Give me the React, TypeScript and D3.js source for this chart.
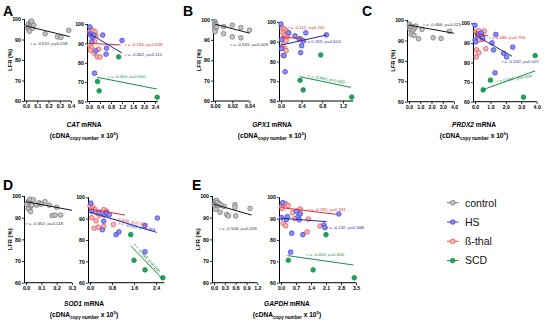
import React, { useEffect, useRef } from 'react';
import * as d3 from 'd3';

type Pt = [number, number];
type Fit = [number, number, number, number];
type Stat = [number, number, number]; // x, y (data units), rotation

const groups = ['control', 'HS', 'ß-thal', 'SCD'];
const yTicks = [60, 70, 80, 90, 100];

// A — CAT
const catControl: Pt[] = [[0.01, 96.5], [0.02, 95], [0.02, 97.5], [0.03, 96], [0.04, 98.5], [0.04, 97], [0.05, 98], [0.05, 96], [0.06, 95.5], [0.03, 94], [0.07, 97], [0.05, 99], [0.17, 92.8], [0.28, 91.3], [0.31, 91], [0.38, 94.5]];
const catHS: Pt[] = [[0.03, 98.5], [0.04, 94.8], [0.13, 93.4], [0.18, 94.3], [0.1, 90.9], [0.25, 86.1], [0.5, 94.3], [0.64, 87.5], [0.62, 84.4], [1.2, 91.5], [0.2, 74.6]];
const catThal: Pt[] = [[0.03, 96], [0.08, 97], [0.15, 96.5], [0.22, 96], [0.05, 94.5], [0.12, 93.5], [0.25, 94], [0.03, 89], [0.1, 88], [0.05, 86.5], [0.2, 91], [0.35, 87], [0.3, 83], [0.4, 83], [0.18, 85]];
const catSCD: Pt[] = [[1.08, 83], [0.31, 70.3], [0.37, 65.5], [2.48, 62.2]];
const catFits: Fit[] = [[0, 96.6, 0.39, 91.4], [0, 95.2, 1.2, 85], [0, 90, 1.15, 89.2], [0.3, 72.5, 2.48, 66.4]];
const catR = ['-0.511', '-0.462', '-0.180', '-0.400'];
const catP = ['0.018', '0.112', '0.538', '0.600'];
const catLeftTicks = [0, 0.1, 0.2, 0.3, 0.4];
const catRightTicks = [0, 0.4, 0.8, 1.2, 1.6, 2.0, 2.4];

// B — GPX1
const gpxControl: Pt[] = [[0, 99], [0, 98], [0, 97], [0, 96], [0, 95], [0, 94], [0.001, 97.5], [0.002, 96.5], [0.01, 96.5], [0.01, 93], [0.02, 97.2], [0.02, 91.5], [0.03, 96], [0.03, 91], [0.04, 94.8]];
const gpxHS: Pt[] = [[0, 99], [0.01, 91], [0.01, 86.5], [0.06, 83], [0.08, 74.8], [0.14, 94.5], [0.27, 93], [0.35, 91.5], [0.48, 94.5], [0.4, 88], [0.38, 84.5], [0.43, 90.5], [0.88, 93.5]];
const gpxThal: Pt[] = [[0.02, 97], [0.06, 96.5], [0.1, 95.5], [0.04, 94.5], [0.08, 93.5], [0.12, 92.5], [0.05, 91], [0.1, 90.5], [0.03, 88], [0.07, 86.5], [0.1, 85.5], [0.04, 83], [0.38, 91.5], [0.15, 94.5]];
const gpxSCD: Pt[] = [[0.77, 83.3], [0.37, 70.5], [0.43, 65.6], [1.37, 62]];
const gpxFits: Fit[] = [[0, 97.7, 0.04, 93.3], [0, 88.3, 0.88, 93.4], [0, 92.6, 0.4, 91.4], [0.37, 72.3, 1.35, 66.9]];
const gpxR = ['-0.555', '0.155', '-0.112', '-0.400'];
const gpxP = ['0.009', '0.614', '0.702', '0.600'];
const gpxLeftTicks = [0, 0.02, 0.04];
const gpxRightTicks = [0, 0.4, 0.8, 1.2];

// C — PRDX2
const prdxControl: Pt[] = [[0.02, 98], [0.05, 96.5], [0.1, 95.5], [0.15, 97], [0.3, 96.5], [0.35, 95], [0.2, 93], [0.5, 96], [0.6, 97], [0.45, 92.5], [0.85, 90.8], [1.15, 95.4], [2.15, 91.3], [2.85, 91], [3.6, 94.5]];
const prdxHS: Pt[] = [[0, 99], [0, 91.5], [0.05, 90.5], [0.2, 94.5], [0.4, 95], [0.45, 93.5], [0.5, 92.5], [1.1, 90], [1.2, 86.4], [1.35, 94.3], [1.85, 84.7], [2.05, 82.8], [2.45, 87.8], [1.3, 74.7]];
const prdxThal: Pt[] = [[0.05, 95.7], [0.15, 95], [0.25, 96.2], [0.35, 94], [0.45, 93], [0.6, 96], [0.3, 91.5], [0.5, 91.8], [0.1, 86.5], [0.25, 85], [0.08, 82.8], [0.7, 87], [0.2, 93.5]];
const prdxSCD: Pt[] = [[3.9, 83.5], [1.0, 71], [0.53, 66], [3.14, 62.3]];
const prdxFits: Fit[] = [[0, 97.5, 4, 93.5], [0, 94, 2.4, 83.2], [0, 94.9, 0.86, 93.5], [0.5, 66.1, 3.9, 75.7]];
const prdxR = ['-0.466', '-0.532', '0.080', '0.400'];
const prdxP = ['0.023', '0.021', '0.794', '0.600'];
const prdxTicks = [0, 1, 2, 3, 4];

// D — SOD1
const sodControl: Pt[] = [[0.004, 96.2], [0.015, 97.5], [0.026, 98.5], [0.048, 98.2], [0.03, 95.1], [0.037, 95.8], [0.015, 94], [0.03, 92.8], [0.07, 95.8], [0.087, 96.9], [0.1, 96.2], [0.124, 97.4], [0.152, 95.8], [0.17, 91], [0.19, 91.2], [0.2, 94.8], [0.226, 91.2]];
const sodHS: Pt[] = [[0.03, 97.3], [0.06, 93.5], [0.33, 93], [0.52, 91.8], [0.6, 92.8], [0.7, 91.8], [0.5, 88.8], [0.45, 84.8], [0.95, 82.5], [1.05, 83.8], [2.0, 86.8], [2.45, 90.3], [2.0, 74.5]];
const sodThal: Pt[] = [[0.0, 96], [0.1, 95.5], [0.18, 94.3], [0.05, 94.5], [0.26, 92.5], [0.35, 91.5], [0.06, 90.5], [0.22, 89], [0.5, 94.2], [0.6, 93.5], [0.5, 86.3], [0.15, 85.5], [0.3, 86], [0.85, 87.2]];
const sodSCD: Pt[] = [[1.48, 82.5], [1.6, 70.5], [2.0, 66], [2.65, 62.3]];
const sodFits: Fit[] = [[0, 97.4, 0.3, 93.4], [0, 93, 2.42, 83.6], [0, 94.5, 1.27, 91.7], [1.48, 77.3, 2.67, 61.3]];
const sodR = ['-0.352', '-0.529', '-0.499', '-0.894'];
const sodP = ['0.118', '0.064', '0.069', '0.106'];
const sodLeftTicks = [0, 0.1, 0.2, 0.3];
const sodRightTicks = [0, 0.8, 1.6, 2.4];

// E — GAPDH
const gapdhControl: Pt[] = [[0.01, 96], [0.03, 97.5], [0.05, 96.3], [0.07, 98], [0.1, 97], [0.12, 95.5], [0.15, 96.5], [0.2, 95.8], [0.28, 95.2], [0.05, 93.8], [0.17, 92.5], [0.35, 91.5], [0.4, 90.8], [0.58, 96], [0.58, 94.8], [0.6, 90.8], [1.0, 94.3]];
const gapdhHS: Pt[] = [[0.08, 97.5], [0.03, 90.5], [0.25, 89.5], [0.3, 91], [0.5, 83.2], [0.72, 93.5], [0.8, 91], [0.9, 92.2], [0.85, 89.5], [1.02, 82.5], [2.0, 87], [2.05, 85.8], [2.7, 92.2], [0.45, 74.3]];
const gapdhThal: Pt[] = [[0.03, 95.8], [0.1, 96.8], [0.22, 97], [0.33, 96.2], [0.1, 87.8], [0.22, 86.7], [0.55, 92.8], [0.65, 90], [1.28, 89.8], [1.22, 83.8], [1.82, 86.5], [0.9, 94.5], [0.05, 94.8]];
const gapdhSCD: Pt[] = [[0.34, 70.5], [2.1, 82.5], [1.5, 66], [3.42, 62.3]];
const gapdhFits: Fit[] = [[0, 96.2, 1.04, 91.2], [0, 90.2, 2.13, 88.6], [0, 95.2, 2.6, 92], [0.3, 72.7, 3.38, 68.3]];
const gapdhR = ['-0.506', '-0.132', '-0.281', '-0.400'];
const gapdhP = ['0.019', '0.668', '0.331', '0.600'];
const gapdhLeftTicks = [0, 0.3, 0.6, 0.9, 1.2];
const gapdhRightTicks = [0, 0.7, 1.4, 2.1, 2.8, 3.5];

const style = [
  { fill: '#c4c4c4', stroke: '#6e6e6e', line: '#111111', text: '#333333' },
  { fill: '#8d8df2', stroke: '#3b3bcc', line: '#26269e', text: '#2a2aa8' },
  { fill: '#f6b8b8', stroke: '#e64848', line: '#e6262a', text: '#e02a2a' },
  { fill: '#22a35a', stroke: '#168a46', line: '#1b8c4e', text: '#1b8c4e' },
];

interface Sub {
  series: Pt[][]; // index matches style
  fits: Fit[];
  r: string[];
  p: string[];
  stats: Stat[];
  idx: number[];
  xDomain: [number, number];
  px: [number, number];
  py: [number, number];
  ticks: number[];
  fmt: string;
}

interface Panel {
  letter: string;
  gene: string;
  letterPos: [number, number];
  labelX: number;
  labelY: number;
  left: Sub;
  right: Sub;
}

const panels: Panel[] = [
  {
    letter: 'A', gene: 'CAT', letterPos: [3, 16], labelX: 84, labelY: 127,
    left: { series: [catControl], fits: [catFits[0]], r: [catR[0]], p: [catP[0]], stats: [[0.04, 87.3, 0]], idx: [0],
      xDomain: [0, 0.4], px: [26, 71], py: [101, 19], ticks: catLeftTicks, fmt: '.1f' },
    right: { series: [catThal, catHS, catSCD], fits: [catFits[2], catFits[1], catFits[3]], r: [catR[2], catR[1], catR[3]], p: [catP[2], catP[1], catP[3]],
      stats: [[1.31, 88.75, 0], [1.31, 83.7, 0], [0.69, 72.1, 0]], idx: [2, 1, 3],
      xDomain: [0, 2.5], px: [89, 157.75], py: [101.5, 24], ticks: catRightTicks, fmt: '.1f' },
  },
  {
    letter: 'B', gene: 'GPX1', letterPos: [183, 16], labelX: 272, labelY: 127,
    left: { series: [gpxControl], fits: [gpxFits[0]], r: [gpxR[0]], p: [gpxP[0]], stats: [[0.018, 87.2, 0]], idx: [0],
      xDomain: [0, 0.04], px: [215, 249.5], py: [101, 19.5], ticks: gpxLeftTicks, fmt: '.2f' },
    right: { series: [gpxThal, gpxHS, gpxSCD], fits: [gpxFits[2], gpxFits[1], gpxFits[3]], r: [gpxR[2], gpxR[1], gpxR[3]], p: [gpxP[2], gpxP[1], gpxP[3]],
      stats: [[0.13, 96.3, 0], [0.46, 89.2, 0], [0.52, 72, 10]], idx: [2, 1, 3],
      xDomain: [0, 1.4], px: [281, 353.3], py: [101, 22], ticks: gpxRightTicks, fmt: '.1f' },
  },
  {
    letter: 'C', gene: 'PRDX2', letterPos: [362, 16], labelX: 474, labelY: 127,
    left: { series: [prdxControl], fits: [prdxFits[0]], r: [prdxR[0]], p: [prdxP[0]], stats: [[1.27, 97.2, 0]], idx: [0],
      xDomain: [0, 4], px: [409, 454], py: [101.7, 20], ticks: prdxTicks, fmt: '.1f' },
    right: { series: [prdxThal, prdxHS, prdxSCD], fits: [prdxFits[2], prdxFits[1], prdxFits[3]], r: [prdxR[2], prdxR[1], prdxR[3]], p: [prdxP[2], prdxP[1], prdxP[3]],
      stats: [[0.93, 92.1, 0], [1.73, 79.6, 0], [1.43, 69.6, -9]], idx: [2, 1, 3],
      xDomain: [0, 4], px: [475, 536.7], py: [101.7, 23.3], ticks: prdxTicks, fmt: '.1f' },
  },
  {
    letter: 'D', gene: 'SOD1', letterPos: [3, 190], labelX: 84, labelY: 306,
    left: { series: [sodControl], fits: [sodFits[0]], r: [sodR[0]], p: [sodP[0]], stats: [[0, 86.7, 0]], idx: [0],
      xDomain: [0, 0.3], px: [26, 72], py: [282.7, 196], ticks: sodLeftTicks, fmt: '.1f' },
    right: { series: [sodThal, sodHS, sodSCD], fits: [sodFits[2], sodFits[1], sodFits[3]], r: [sodR[2], sodR[1], sodR[3]], p: [sodP[2], sodP[1], sodP[3]],
      stats: [[0.73, 89.5, 10], [1.03, 87, 10], [1.58, 77.5, 48]], idx: [2, 1, 3],
      xDomain: [0, 2.7], px: [90, 164.25], py: [282.7, 197.3], ticks: sodRightTicks, fmt: '.1f' },
  },
  {
    letter: 'E', gene: 'GAPDH', letterPos: [192, 190], labelX: 287, labelY: 306,
    left: { series: [gapdhControl], fits: [gapdhFits[0]], r: [gapdhR[0]], p: [gapdhP[0]], stats: [[0.15, 84.1, 0]], idx: [0],
      xDomain: [0, 1.2], px: [214, 257.3], py: [282.7, 196], ticks: gapdhLeftTicks, fmt: '.1f' },
    right: { series: [gapdhThal, gapdhHS, gapdhSCD], fits: [gapdhFits[2], gapdhFits[1], gapdhFits[3]], r: [gapdhR[2], gapdhR[1], gapdhR[3]], p: [gapdhP[2], gapdhP[1], gapdhP[3]],
      stats: [[1.28, 93.8, 0], [2.13, 85, 0], [1.2, 72.3, 0]], idx: [2, 1, 3],
      xDomain: [0, 3.5], px: [281, 356], py: [282.7, 197.3], ticks: gapdhRightTicks, fmt: '.1f' },
  },
];

const FONT = "'Liberation Sans', Arial, Helvetica, sans-serif";

function drawSub(root: d3.Selection<SVGGElement, unknown, null, undefined>, s: Sub, isLeft: boolean) {
  const x = d3.scaleLinear().domain(s.xDomain).range(s.px);
  const y = d3.scaleLinear().domain([60, 100]).range(s.py);
  const g = root.append('g');
  const ax = s.px[0] - 1.5;

  // axes lines
  g.append('line').attr('x1', ax).attr('x2', ax).attr('y1', y(60)).attr('y2', y(100))
    .attr('stroke', '#000').attr('stroke-width', 1);
  g.append('line').attr('x1', ax).attr('x2', x(s.xDomain[1])).attr('y1', y(60)).attr('y2', y(60))
    .attr('stroke', '#000').attr('stroke-width', 1);

  const yAxis = d3.axisLeft(y).tickValues(yTicks).tickSize(2.5).tickPadding(1.2).tickSizeOuter(0);
  const ya = g.append('g').attr('transform', `translate(${ax},0)`).call(yAxis);
  const xAxis = d3.axisBottom(x).tickValues(s.ticks).tickSize(2.5).tickPadding(1.2).tickSizeOuter(0)
    .tickFormat(d3.format(s.fmt) as any);
  const xa = g.append('g').attr('transform', `translate(0,${y(60)})`).call(xAxis);
  [ya, xa].forEach(a => {
    a.select('.domain').remove();
    a.selectAll('line').attr('stroke', '#000').attr('stroke-width', 0.8);
    a.selectAll('text').attr('font-family', FONT).attr('font-size', 5.2).attr('font-weight', 'bold').attr('fill', '#000');
  });

  if (isLeft) {
    g.append('text')
      .attr('transform', `translate(${ax - 13},${(y(60) + y(100)) / 2}) rotate(-90)`)
      .attr('text-anchor', 'middle').attr('font-family', FONT).attr('font-size', 5.8).attr('font-weight', 'bold')
      .text('LFR (%)');
  }

  // points
  s.series.forEach((data, i) => {
    const st = style[s.idx[i]];
    g.append('g').selectAll('circle').data(data).enter().append('circle')
      .attr('cx', d => x(d[0])).attr('cy', d => y(d[1])).attr('r', 2.35)
      .attr('fill', st.fill).attr('stroke', st.stroke).attr('stroke-width', 0.7);
  });

  // regression lines + stats
  s.fits.forEach((f, i) => {
    const st = style[s.idx[i]];
    g.append('line').attr('x1', x(f[0])).attr('y1', y(f[1])).attr('x2', x(f[2])).attr('y2', y(f[3]))
      .attr('stroke', st.line).attr('stroke-width', 1);
    const [sx, sy, rot] = s.stats[i];
    const t = g.append('text')
      .attr('transform', `translate(${x(sx)},${y(sy)}) rotate(${rot})`)
      .attr('font-family', FONT).attr('font-size', 4.4).attr('fill', st.text);
    t.append('tspan').attr('font-style', 'italic').text('r');
    t.append('tspan').text(` = ${s.r[i]}; `);
    t.append('tspan').attr('font-style', 'italic').text('p');
    t.append('tspan').text(`=${s.p[i]}`);
  });
}

const App: React.FC = () => {
  const svgRef = useRef<SVGSVGElement | null>(null);

  useEffect(() => {
    const svg = d3.select(svgRef.current);
    svg.selectAll('*').remove();
    const root = svg.append('g') as d3.Selection<SVGGElement, unknown, null, undefined>;

    panels.forEach(p => {
      root.append('text').attr('x', p.letterPos[0]).attr('y', p.letterPos[1])
        .attr('font-family', FONT).attr('font-size', 14).attr('font-weight', 'bold').text(p.letter);
      drawSub(root, p.left, true);
      drawSub(root, p.right, false);

      const l1 = root.append('text').attr('x', p.labelX).attr('y', p.labelY).attr('text-anchor', 'middle')
        .attr('font-family', FONT).attr('font-size', 6.6).attr('font-weight', 'bold');
      l1.append('tspan').attr('font-style', 'italic').text(p.gene);
      l1.append('tspan').text(' mRNA');
      const l2 = root.append('text').attr('x', p.labelX).attr('y', p.labelY + 11).attr('text-anchor', 'middle')
        .attr('font-family', FONT).attr('font-size', 6.6).attr('font-weight', 'bold');
      l2.append('tspan').text('(cDNA');
      l2.append('tspan').attr('font-size', 4.6).attr('dy', 1.8).text('copy number');
      l2.append('tspan').attr('dy', -1.8).text(' x 10');
      l2.append('tspan').attr('font-size', 4.4).attr('dy', -2.6).text('5');
      l2.append('tspan').attr('dy', 2.6).text(')');
    });

    // legend
    const lg = root.append('g');
    groups.forEach((name, i) => {
      const st = style[i];
      const cy = 202.7 + i * 19.3;
      lg.append('line').attr('x1', 447).attr('x2', 458.5).attr('y1', cy).attr('y2', cy)
        .attr('stroke', st.stroke).attr('stroke-width', 1);
      lg.append('circle').attr('cx', 452.7).attr('cy', cy).attr('r', 2.3)
        .attr('fill', st.fill).attr('stroke', st.stroke).attr('stroke-width', 0.8);
      lg.append('text').attr('x', 465).attr('y', cy + 3.8)
        .attr('font-family', FONT).attr('font-size', 10.5).attr('fill', '#111').text(name);
    });
  }, []);

  return (
    <svg ref={svgRef} width={550} height={321}
      style={{ position: 'absolute', left: 0, top: 0, background: '#fff' }} />
  );
};

export default App;
